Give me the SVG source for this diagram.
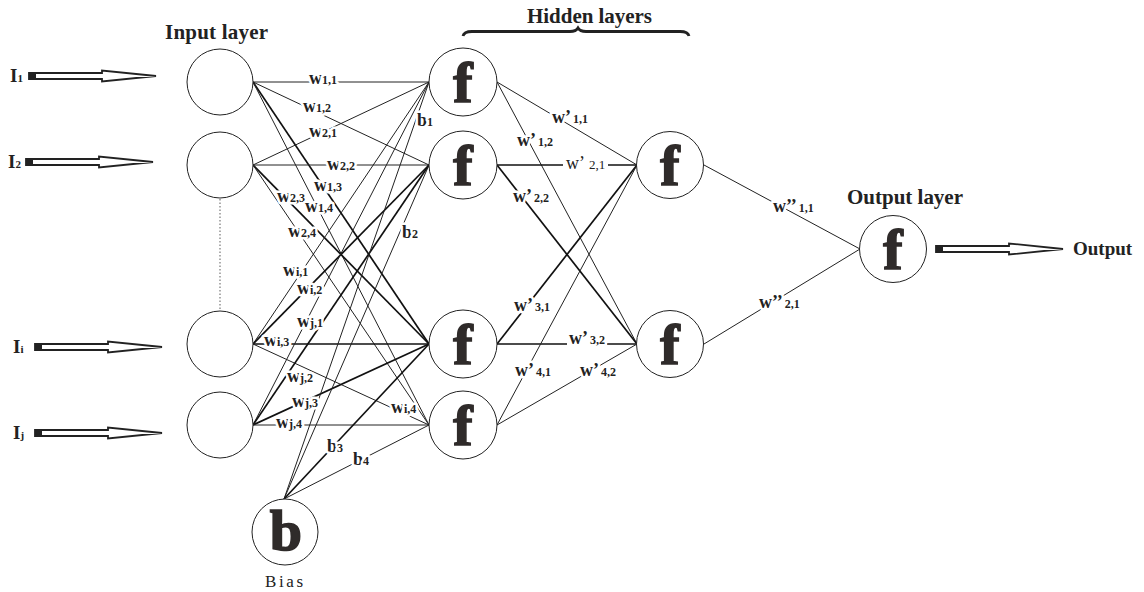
<svg xmlns="http://www.w3.org/2000/svg" width="1144" height="592" viewBox="0 0 1144 592">
<style>
.c{fill:#fff;stroke:#222;stroke-width:1}
.t{stroke:#222;stroke-width:1;fill:none}
.k{stroke:#111;stroke-width:1.7;fill:none}
.fx{font-family:"Liberation Serif",serif;font-weight:bold;font-size:58px;fill:#2f2b2a;stroke:#2f2b2a;stroke-width:1.6;text-anchor:middle}
.lbl{font-family:"Liberation Serif",serif;font-weight:bold;font-size:18px;fill:#222;stroke:#fff;stroke-width:5;stroke-linejoin:round;paint-order:stroke}
.s{font-size:12px}
.reg{font-weight:normal}
.ttl{font-family:"Liberation Serif",serif;font-weight:bold;font-size:21px;fill:#222}
.io{font-family:"Liberation Serif",serif;font-weight:bold;font-size:19px;fill:#222}
.arr{fill:#fff;stroke:#222;stroke-width:1.8;stroke-linejoin:miter}
.bg{fill:#fff}
</style>
<defs>
<g id="arrow">
<polygon class="arr" points="0,-3 73,-3 73,-5.5 127,0 73,5.5 73,3 0,3"/>
<rect x="0" y="-3.5" width="7" height="7" fill="#222"/>
</g>
</defs>

<g id="connectors">
<line class="t" x1="253" y1="82" x2="429" y2="82"/>
<line class="t" x1="253" y1="82" x2="429" y2="165"/>
<line class="k" x1="253" y1="82" x2="429" y2="344"/>
<line class="t" x1="253" y1="82" x2="429" y2="425"/>
<line class="t" x1="253" y1="165" x2="429" y2="82"/>
<line class="t" x1="253" y1="165" x2="429" y2="165"/>
<line class="k" x1="253" y1="165" x2="429" y2="344"/>
<line class="t" x1="253" y1="165" x2="429" y2="425"/>
<line class="t" x1="253" y1="344" x2="429" y2="82"/>
<line class="k" x1="253" y1="344" x2="429" y2="165"/>
<line class="k" x1="253" y1="344" x2="429" y2="344"/>
<line class="t" x1="253" y1="344" x2="429" y2="425"/>
<line class="t" x1="253" y1="425" x2="429" y2="82"/>
<line class="k" x1="253" y1="425" x2="429" y2="165"/>
<line class="k" x1="253" y1="425" x2="429" y2="344"/>
<line class="t" x1="253" y1="425" x2="429" y2="425"/>
<line class="t" x1="284" y1="499" x2="429" y2="82"/>
<line class="t" x1="284" y1="499" x2="429" y2="165"/>
<line class="k" x1="284" y1="499" x2="429" y2="344"/>
<line class="t" x1="284" y1="499" x2="429" y2="425"/>
<line class="t" x1="497" y1="82" x2="637" y2="165"/>
<line class="t" x1="497" y1="82" x2="637" y2="344"/>
<line class="k" x1="497" y1="165" x2="637" y2="165"/>
<line class="k" x1="497" y1="165" x2="637" y2="344"/>
<line class="k" x1="497" y1="344" x2="637" y2="165"/>
<line class="k" x1="497" y1="344" x2="637" y2="344"/>
<line class="t" x1="497" y1="425" x2="637" y2="165"/>
<line class="t" x1="497" y1="425" x2="637" y2="344"/>
<line class="t" x1="704" y1="165" x2="860" y2="249"/>
<line class="t" x1="704" y1="344" x2="860" y2="249"/>
<line x1="220" y1="199" x2="220" y2="310" stroke="#777" stroke-width="1.2" stroke-dasharray="1.5,2"/>
</g>

<g id="labels">
<rect class="bg" x="563" y="158" width="45" height="14"/>
<rect class="bg" x="567" y="336" width="40" height="12"/>
<text class="lbl" x="309" y="84">w<tspan class="s">1,1</tspan></text>
<text class="lbl" x="303" y="112">w<tspan class="s">1,2</tspan></text>
<text class="lbl" x="309" y="137">w<tspan class="s">2,1</tspan></text>
<text class="lbl" x="327" y="170">w<tspan class="s">2,2</tspan></text>
<text class="lbl" x="314" y="191">w<tspan class="s">1,3</tspan></text>
<text class="lbl" x="277" y="202">w<tspan class="s">2,3</tspan></text>
<text class="lbl" x="305" y="212">w<tspan class="s">1,4</tspan></text>
<text class="lbl" x="288" y="237">w<tspan class="s">2,4</tspan></text>
<text class="lbl" x="283" y="276">w<tspan class="s">i,1</tspan></text>
<text class="lbl" x="297" y="294">w<tspan class="s">i,2</tspan></text>
<text class="lbl" x="297" y="327">w<tspan class="s">j,1</tspan></text>
<text class="lbl" x="264" y="346">w<tspan class="s">i,3</tspan></text>
<text class="lbl" x="287" y="382">w<tspan class="s">j,2</tspan></text>
<text class="lbl" x="292" y="407">w<tspan class="s">j,3</tspan></text>
<text class="lbl" x="391" y="413">w<tspan class="s">i,4</tspan></text>
<text class="lbl" x="276" y="428">w<tspan class="s">j,4</tspan></text>
<text class="lbl" x="417" y="126" font-size="19">b<tspan class="s">1</tspan></text>
<text class="lbl" x="402" y="238" font-size="19">b<tspan class="s">2</tspan></text>
<text class="lbl" x="327" y="452" font-size="19">b<tspan class="s">3</tspan></text>
<text class="lbl" x="353" y="465" font-size="19">b<tspan class="s">4</tspan></text>
<text class="lbl" x="552" y="123">w’<tspan class="s" dx="2">1,1</tspan></text>
<text class="lbl" x="517" y="146">w’<tspan class="s" dx="2">1,2</tspan></text>
<text class="lbl reg" x="566" y="169">w’<tspan font-size="13px" dx="4">2,1</tspan></text>
<text class="lbl" x="513" y="202">w’<tspan class="s" dx="2">2,2</tspan></text>
<text class="lbl" x="514" y="311">w’<tspan class="s" dx="2">3,1</tspan></text>
<text class="lbl" x="569" y="344">w’<tspan class="s" dx="2">3,2</tspan></text>
<text class="lbl" x="515" y="376">w’<tspan class="s" dx="2">4,1</tspan></text>
<text class="lbl" x="580" y="376">w’<tspan class="s" dx="2">4,2</tspan></text>
<text class="lbl" x="773" y="212">w’’<tspan class="s" dx="2">1,1</tspan></text>
<text class="lbl" x="759" y="308">w’’<tspan class="s" dx="2">2,1</tspan></text>
</g>

<g id="titles">
<text class="ttl" x="165" y="39" textLength="103">Input layer</text>
<text class="ttl" x="527" y="23" textLength="125">Hidden layers</text>
<path d="M463,36 Q464,31.5 472,31.5 L570,31.5 Q576,31.5 578,28 Q580,31.5 586,31.5 L680,31.5 Q688,31.5 689,36" fill="none" stroke="#222" stroke-width="2.8"/>
<text class="ttl" x="847" y="204" textLength="116">Output layer</text>
</g>

<g id="inputs">
<text class="io" x="10" y="82">I<tspan font-size="11px">1</tspan></text>
<use href="#arrow" x="29" y="76"/>
<text class="io" x="8" y="168">I<tspan font-size="11px">2</tspan></text>
<use href="#arrow" x="26" y="162"/>
<text class="io" x="13" y="353">I<tspan font-size="11px">i</tspan></text>
<use href="#arrow" x="35" y="347"/>
<text class="io" x="13" y="439">I<tspan font-size="11px">j</tspan></text>
<use href="#arrow" x="35" y="433"/>
</g>

<g id="input-1"><circle class="c" cx="220" cy="82" r="33"/></g>
<g id="input-2"><circle class="c" cx="220" cy="165" r="33"/></g>
<g id="input-i"><circle class="c" cx="220" cy="344" r="33"/></g>
<g id="input-j"><circle class="c" cx="220" cy="425" r="33"/></g>

<g id="hidden1-1"><circle class="c" cx="463" cy="82" r="34"/><text class="fx" x="463" y="102">f</text></g>
<g id="hidden1-2"><circle class="c" cx="463" cy="165" r="34"/><text class="fx" x="463" y="185">f</text></g>
<g id="hidden1-3"><circle class="c" cx="463" cy="344" r="34"/><text class="fx" x="463" y="364">f</text></g>
<g id="hidden1-4"><circle class="c" cx="463" cy="425" r="34"/><text class="fx" x="463" y="445">f</text></g>

<g id="hidden2-1"><circle class="c" cx="670" cy="165" r="33.5"/><text class="fx" x="670" y="185">f</text></g>
<g id="hidden2-2"><circle class="c" cx="670" cy="344" r="33.5"/><text class="fx" x="670" y="364">f</text></g>

<g id="output"><circle class="c" cx="893" cy="249" r="33.5"/><text class="fx" x="893" y="269">f</text>
<use href="#arrow" x="936" y="249"/>
<text class="io" x="1073" y="255">Output</text>
</g>

<g id="bias"><circle class="c" cx="285" cy="532" r="33"/><text class="fx" x="286" y="550">b</text>
<text x="265" y="587" textLength="38" font-family="'Liberation Serif',serif" font-size="17px" fill="#222">Bias</text>
</g>
</svg>
